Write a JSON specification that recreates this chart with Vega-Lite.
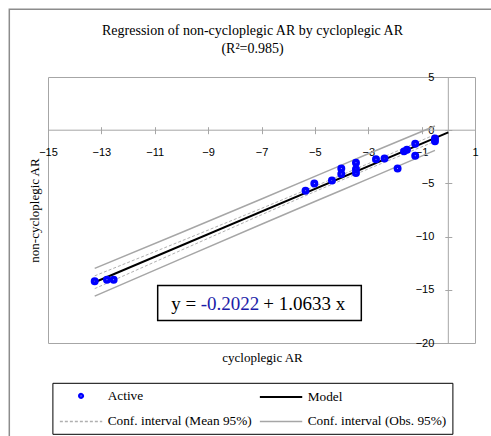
{
  "$schema": "https://vega.github.io/schema/vega-lite/v6.json",
  "width": 427,
  "height": 266,
  "autosize": {"type": "none"},
  "padding": {"left": 48, "top": 77, "right": 16, "bottom": 93},
  "background": "white",
  "config": {"view": {"stroke": "#a6a6a6", "strokeWidth": 1}, "font": "Liberation Serif"},
  "title": {
    "text": ["Regression of non-cycloplegic AR by cycloplegic AR", "(R²=0.985)"],
    "font": "Liberation Serif", "fontSize": 14, "fontWeight": "normal", "color": "#000000",
    "anchor": "middle", "frame": "group", "dx": -9, "offset": -61, "lineHeight": 18, "baseline": "bottom"
  },
  "datasets": {
    "points": [
      {"x": -13.25, "y": -14.2, "series": "Active"},
      {"x": -12.79, "y": -14.06, "series": "Active"},
      {"x": -12.54, "y": -14.06, "series": "Active"},
      {"x": -5.35, "y": -5.69, "series": "Active"},
      {"x": -5.02, "y": -5.0, "series": "Active"},
      {"x": -4.36, "y": -4.72, "series": "Active"},
      {"x": -4.01, "y": -3.59, "series": "Active"},
      {"x": -4.01, "y": -4.12, "series": "Active"},
      {"x": -3.46, "y": -3.06, "series": "Active"},
      {"x": -3.46, "y": -3.68, "series": "Active"},
      {"x": -3.46, "y": -4.03, "series": "Active"},
      {"x": -2.71, "y": -2.74, "series": "Active"},
      {"x": -2.39, "y": -2.65, "series": "Active"},
      {"x": -1.9, "y": -3.59, "series": "Active"},
      {"x": -1.66, "y": -1.99, "series": "Active"},
      {"x": -1.55, "y": -1.83, "series": "Active"},
      {"x": -1.24, "y": -1.27, "series": "Active"},
      {"x": -1.24, "y": -2.4, "series": "Active"},
      {"x": -0.5, "y": -0.77, "series": "Active"},
      {"x": -0.5, "y": -1.05, "series": "Active"}
    ],
    "model": [
      {"x": -13.25, "y": -14.29, "series": "Model"},
      {"x": 0, "y": -0.2, "series": "Model"}
    ],
    "meanband": [
      {"x": -13.25, "y": -14.89, "side": "lo", "series": "Conf. interval (Mean 95%)"},
      {"x": -10, "y": -11.27, "side": "lo", "series": "Conf. interval (Mean 95%)"},
      {"x": -7, "y": -7.95, "side": "lo", "series": "Conf. interval (Mean 95%)"},
      {"x": -5, "y": -5.77, "side": "lo", "series": "Conf. interval (Mean 95%)"},
      {"x": -4, "y": -4.7, "side": "lo", "series": "Conf. interval (Mean 95%)"},
      {"x": -3, "y": -3.64, "side": "lo", "series": "Conf. interval (Mean 95%)"},
      {"x": -0.5, "y": -1.05, "side": "lo", "series": "Conf. interval (Mean 95%)"},
      {"x": -13.25, "y": -13.69, "side": "hi", "series": "Conf. interval (Mean 95%)"},
      {"x": -10, "y": -10.41, "side": "hi", "series": "Conf. interval (Mean 95%)"},
      {"x": -7, "y": -7.35, "side": "hi", "series": "Conf. interval (Mean 95%)"},
      {"x": -5, "y": -5.27, "side": "hi", "series": "Conf. interval (Mean 95%)"},
      {"x": -4, "y": -4.21, "side": "hi", "series": "Conf. interval (Mean 95%)"},
      {"x": -3, "y": -3.14, "side": "hi", "series": "Conf. interval (Mean 95%)"},
      {"x": -0.5, "y": -0.41, "side": "hi", "series": "Conf. interval (Mean 95%)"}
    ],
    "obsband": [
      {"x": -13.25, "y": -15.59, "side": "lo", "series": "Conf. interval (Obs. 95%)"},
      {"x": -10, "y": -12.07, "side": "lo", "series": "Conf. interval (Obs. 95%)"},
      {"x": -7, "y": -8.84, "side": "lo", "series": "Conf. interval (Obs. 95%)"},
      {"x": -5, "y": -6.7, "side": "lo", "series": "Conf. interval (Obs. 95%)"},
      {"x": -4, "y": -5.64, "side": "lo", "series": "Conf. interval (Obs. 95%)"},
      {"x": -3, "y": -4.57, "side": "lo", "series": "Conf. interval (Obs. 95%)"},
      {"x": -0.5, "y": -1.9, "side": "lo", "series": "Conf. interval (Obs. 95%)"},
      {"x": -13.25, "y": -12.99, "side": "hi", "series": "Conf. interval (Obs. 95%)"},
      {"x": -10, "y": -9.61, "side": "hi", "series": "Conf. interval (Obs. 95%)"},
      {"x": -7, "y": -6.46, "side": "hi", "series": "Conf. interval (Obs. 95%)"},
      {"x": -5, "y": -4.34, "side": "hi", "series": "Conf. interval (Obs. 95%)"},
      {"x": -4, "y": -3.28, "side": "hi", "series": "Conf. interval (Obs. 95%)"},
      {"x": -3, "y": -2.21, "side": "hi", "series": "Conf. interval (Obs. 95%)"},
      {"x": -0.5, "y": 0.4, "side": "hi", "series": "Conf. interval (Obs. 95%)"}
    ],
    "single": [{"label": "frame"}]
  },
  "layer": [
    {
      "data": {"name": "single"},
      "mark": {"type": "rule", "color": "#a6a6a6", "strokeWidth": 1},
      "encoding": {"y": {"datum": 0, "type": "quantitative"}}
    },
    {
      "data": {"name": "single"},
      "mark": {"type": "rule", "color": "#a6a6a6", "strokeWidth": 1},
      "encoding": {"x": {"datum": 0, "type": "quantitative"}}
    },
    {
      "data": {"name": "obsband"},
      "mark": {"type": "line", "strokeWidth": 1.5},
      "encoding": {
        "x": {"field": "x", "type": "quantitative"},
        "y": {"field": "y", "type": "quantitative"},
        "detail": {"field": "side"},
        "color": {"field": "series", "type": "nominal"}
      }
    },
    {
      "data": {"name": "meanband"},
      "mark": {"type": "line", "strokeWidth": 1, "strokeDash": [3, 2]},
      "encoding": {
        "x": {"field": "x", "type": "quantitative"},
        "y": {"field": "y", "type": "quantitative"},
        "detail": {"field": "side"},
        "color": {"field": "series", "type": "nominal"}
      }
    },
    {
      "data": {"name": "model"},
      "mark": {"type": "line", "strokeWidth": 2},
      "encoding": {
        "x": {"field": "x", "type": "quantitative"},
        "y": {"field": "y", "type": "quantitative"},
        "color": {"field": "series", "type": "nominal"}
      }
    },
    {
      "data": {"name": "points"},
      "mark": {"type": "point", "filled": false, "size": 20, "strokeWidth": 3.5, "opacity": 1},
      "encoding": {
        "x": {
          "field": "x", "type": "quantitative",
          "scale": {"domain": [-15, 1], "nice": false, "zero": false},
          "axis": {
            "orient": "bottom", "offset": -216.3, "values": [-15, -13, -11, -9, -7, -5, -3, -1, 1],
            "domain": false, "grid": false, "ticks": true, "tickSize": 7, "tickColor": "#a6a6a6",
            "labelFont": "Liberation Sans", "labelFontSize": 11, "labelColor": "#000000",
            "labelPadding": 13, "labelFlush": false, "labelOverlap": false,
            "title": "cycloplegic AR", "titleFont": "Liberation Serif", "titleFontSize": 13,
            "titleFontWeight": "normal", "titleColor": "#000000", "titleBaseline": "middle",
            "titleX": 214, "titleY": 230.6
          }
        },
        "y": {
          "field": "y", "type": "quantitative",
          "scale": {"domain": [-20, 5], "nice": false, "zero": false},
          "axis": {
            "orient": "left", "offset": -403.8, "values": [-20, -15, -10, -5, 0, 5],
            "domain": false, "grid": false, "ticks": true, "tickSize": 7, "tickColor": "#a6a6a6",
            "labelFont": "Liberation Sans", "labelFontSize": 11, "labelColor": "#000000",
            "labelPadding": 11, "labelFlush": false, "labelOverlap": false,
            "title": "non-cycloplegic AR", "titleFont": "Liberation Serif", "titleFontSize": 13,
            "titleFontWeight": "normal", "titleColor": "#000000", "titleBaseline": "middle",
            "titleAngle": 270, "titleX": -417, "titleY": 133
          }
        },
        "color": {
          "field": "series", "type": "nominal",
          "scale": {
            "domain": ["Active", "Model", "Conf. interval (Mean 95%)", "Conf. interval (Obs. 95%)"],
            "range": ["#0000ff", "#000000", "#b0b0b0", "#a6a6a6"]
          },
          "legend": {
            "orient": "none", "legendX": 4.4, "legendY": 305.8, "columns": 2, "direction": "horizontal", "title": null,
            "strokeColor": "#000000", "fillColor": "#ffffff", "padding": 6,
            "labelFont": "Liberation Serif", "labelFontSize": 13.3, "labelColor": "#000000",
            "labelOffset": 20, "symbolSize": 40, "symbolOffset": 16, "rowPadding": 9, "columnPadding": 3,
            "labelLimit": 0,
            "symbolType": {"expr": "datum.value === 'Active' ? 'M-0.4,0A0.4,0.4,0,1,1,0.4,0A0.4,0.4,0,1,1,-0.4,0Z' : 'M-6.7,0H6.7'"},
            "symbolFillColor": {"expr": "datum.value === 'Active' ? '#0000ff' : 'transparent'"},
            "symbolDash": {"expr": "datum.value === 'Conf. interval (Mean 95%)' ? [3, 2] : [1, 0]"},
            "symbolStrokeWidth": {"expr": "datum.value === 'Model' ? 2 : (datum.value === 'Active' ? 3.6 : 1.5)"},
            "symbolOpacity": 1
          }
        }
      }
    },
    {
      "data": {"name": "single"},
      "mark": {"type": "rect", "fill": "#ffffff", "stroke": "#000000", "strokeWidth": 1.5},
      "encoding": {
        "x": {"datum": -10.89, "type": "quantitative"},
        "x2": {"datum": -3.26},
        "y": {"datum": -14.6, "type": "quantitative"},
        "y2": {"datum": -17.89}
      }
    },
    {
      "data": {"values": [{"label": "y = "}]},
      "mark": {"type": "text", "font": "Liberation Serif", "fontSize": 19, "align": "left", "baseline": "alphabetic", "color": "#000000"},
      "encoding": {
        "x": {"datum": -10.38, "type": "quantitative"},
        "y": {"datum": -16.86, "type": "quantitative"},
        "text": {"field": "label"}
      }
    },
    {
      "data": {"values": [{"label": "-0.2022"}]},
      "mark": {"type": "text", "font": "Liberation Serif", "fontSize": 19, "align": "left", "baseline": "alphabetic", "color": "#1c1ca8"},
      "encoding": {
        "x": {"datum": -9.28, "type": "quantitative"},
        "y": {"datum": -16.86, "type": "quantitative"},
        "text": {"field": "label"}
      }
    },
    {
      "data": {"values": [{"label": "+ 1.0633 x"}]},
      "mark": {"type": "text", "font": "Liberation Serif", "fontSize": 19, "align": "left", "baseline": "alphabetic", "color": "#000000"},
      "encoding": {
        "x": {"datum": -6.93, "type": "quantitative"},
        "y": {"datum": -16.86, "type": "quantitative"},
        "text": {"field": "label"}
      }
    },
    {
      "data": {"name": "single"},
      "mark": {"type": "rect", "fill": null, "fillOpacity": 0, "stroke": "#8c8c8c", "strokeWidth": 1.5},
      "encoding": {
        "x": {"datum": -16.45, "type": "quantitative"},
        "x2": {"datum": 3},
        "y": {"datum": 11.36, "type": "quantitative"},
        "y2": {"datum": -40}
      }
    }
  ]
}
